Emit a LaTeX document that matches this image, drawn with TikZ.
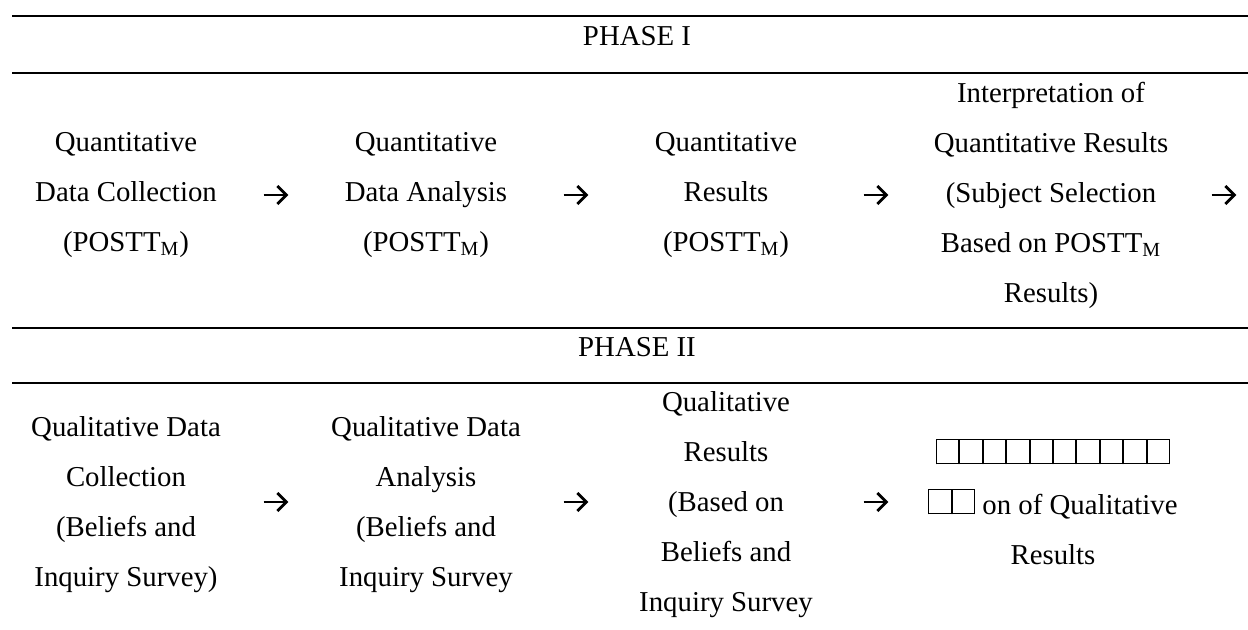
\documentclass[tikz,border=0pt]{standalone}
\usepackage{fontspec}
\setmainfont{Liberation Serif}
\usetikzlibrary{positioning,arrows.meta}

\newcommand\missingglyph{\hbox{\vrule width 0.5pt\vbox to 12.5pt{\hrule height 0.5pt width 10.7pt\vfill\hrule height 0.5pt width 10.7pt}\vrule width 0.5pt}}

\begin{document}
\begin{tikzpicture}[x=0.5pt,y=-0.5pt,>={Straight Barb[length=4.5pt,width=9pt]},
                    node distance=150pt,
                    cell/.style={align=center,inner sep=0pt,font=\fontsize{14.4}{25}\selectfont},
                    gap/.style={minimum width=12pt,inner sep=0pt},
                    flow/.style={->,line width=1.4pt},
                    rule/.style={line width=1pt}]
  \useasboundingbox (0,0) rectangle (1248,629);
  \draw[rule] (12,16) -- (1248,16);
  \draw[rule] (12,73) -- (1248,73);
  \draw[rule] (12,328) -- (1248,328);
  \draw[rule] (12,383) -- (1248,383);

  \node[cell] (phase1) at (637,36) {PHASE I};
  \node[cell] (1) at (126,195) {Quantitative\\Data Collection\\(POSTT\textsubscript{M})};
  \node[gap] (a1) [right of=1,node distance=75pt] {};
  \node[cell] (2) [right of=1] {Quantitative\\Data Analysis\\(POSTT\textsubscript{M})};
  \node[gap] (a2) [right of=2,node distance=75pt] {};
  \node[cell] (3) [right of=2] {Quantitative\\Results\\(POSTT\textsubscript{M})};
  \node[gap] (a3) [right of=3,node distance=75pt] {};
  \node[cell] (4) [right of=3,node distance=162.5pt] {Interpretation of\\Quantitative Results\\(Subject Selection\\Based on POSTT\textsubscript{M}\\Results)};
  \node[gap] (a4) [right of=4,node distance=86.5pt] {};

  \node[cell] (phase2) at (637,347) {PHASE II};
  \node[cell] (5) at (126,505) {Qualitative Data\\Collection\\(Beliefs and\\Inquiry Survey)};
  \node[gap] (a5) [right of=5,node distance=75pt,yshift=1.5pt] {};
  \node[cell] (6) [right of=5] {Qualitative Data\\Analysis\\(Beliefs and\\Inquiry Survey};
  \node[gap] (a6) [right of=6,node distance=75pt,yshift=1.5pt] {};
  \node[cell] (7) [right of=6] {Qualitative\\Results\\(Based on\\Beliefs and\\Inquiry Survey};
  \node[gap] (a7) [right of=7,node distance=75pt,yshift=1.5pt] {};
  \node[cell] (8) [right of=7,node distance=163.5pt,yshift=1.5pt] {\missingglyph\missingglyph\missingglyph\missingglyph\missingglyph\missingglyph\missingglyph\missingglyph\missingglyph\missingglyph\\\missingglyph\missingglyph{} on of Qualitative\\Results};

  \path[flow]
    (a1.west) edge (a1.east)
    (a2.west) edge (a2.east)
    (a3.west) edge (a3.east)
    (a4.west) edge (a4.east)
    (a5.west) edge (a5.east)
    (a6.west) edge (a6.east)
    (a7.west) edge (a7.east);
\end{tikzpicture}
\end{document}
